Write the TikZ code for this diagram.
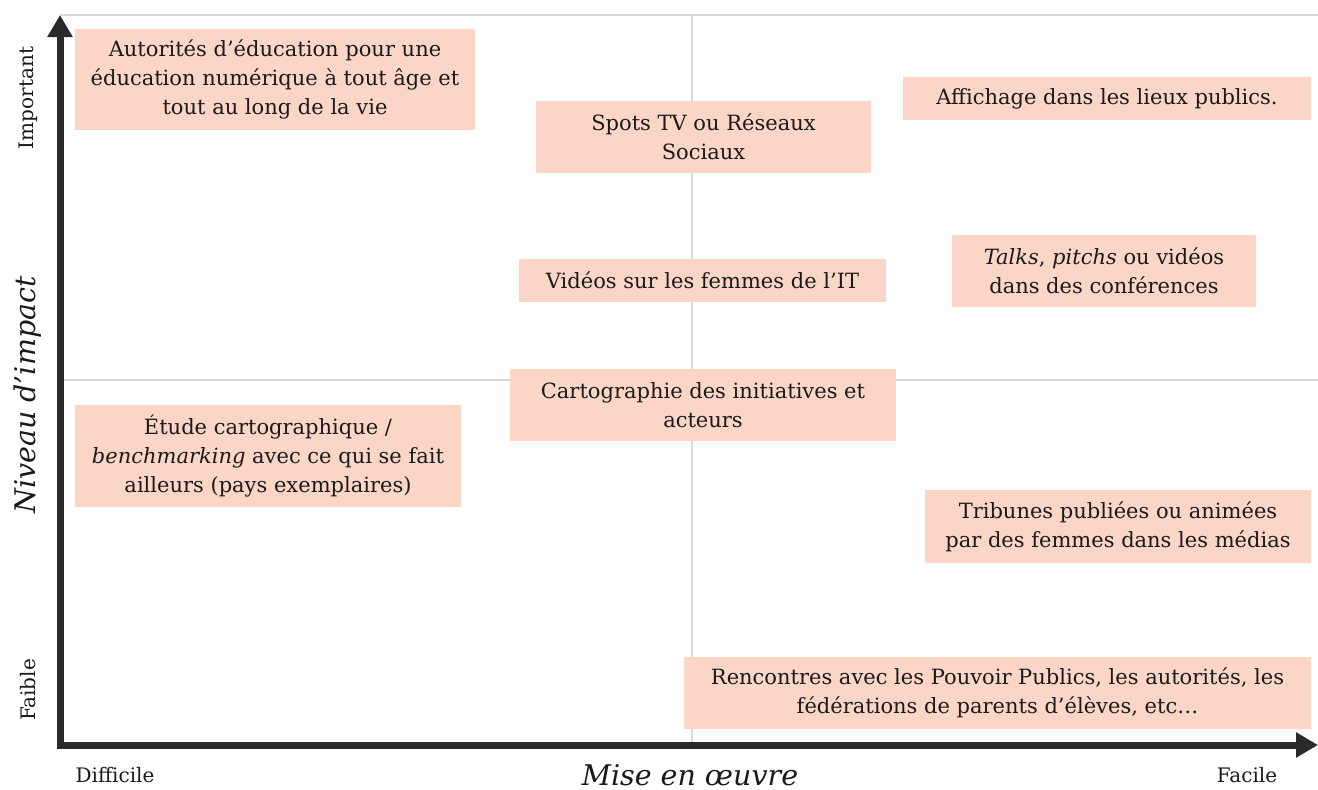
\documentclass[tikz,border=0pt]{standalone}
\usepackage{fontspec}
\setmainfont{DejaVu Serif}
\usetikzlibrary{arrows.meta}

\definecolor{peach}{RGB}{251,214,198}
\definecolor{axisgray}{RGB}{42,42,42}
\definecolor{gridgray}{RGB}{217,217,217}
\definecolor{ink}{RGB}{26,26,26}

\begin{document}
\begin{tikzpicture}[x=1pt,y=-1pt,
                idea/.style={fill=peach,inner sep=0pt,align=center,text=ink,
                    font=\fontsize{21}{29}\selectfont},
                tick label/.style={font=\fontsize{20}{24}\selectfont,text=ink},
                axis label/.style={font=\fontsize{28.5}{32}\selectfont\itshape,text=ink},
                grid line/.style={draw=gridgray,line width=1.5pt},
                axis/.style={draw=axisgray,line width=7pt,
                    -{Triangle[length=22pt,width=24pt]}},
                ]
                \useasboundingbox (0,0) rectangle (1318,790);
                \def\midx{692}
                \def\midy{380}

                % grid
                \coordinate (tl) at (60,15);
                \coordinate (tr) at (1318,15);
                \coordinate (ml) at (60,\midy);
                \coordinate (mr) at (1318,\midy);
                \coordinate (vt) at (\midx,15);
                \coordinate (vb) at (\midx,745);
                \draw[grid line] (tl) -- (tr);
                \draw[grid line] (ml) -- (mr);
                \draw[grid line] (vt) -- (vb);

                % axes
                \coordinate (o) at (60,745);
                \coordinate (ytop) at (60,15);
                \coordinate (xend) at (1318,745);
                \draw[axis] ([yshift=-3.5]o) -- (ytop);
                \draw[axis] ([xshift=-3.5]o) -- (xend);

                % ideas
                \node[idea,minimum width=400,minimum height=101] (autorites) at (275,79.5)
                    {Autorités d’éducation pour une\\éducation numérique à tout âge et\\tout au long de la vie};
                \node[idea,minimum width=335,minimum height=72] (spots) at (703.5,137)
                    {Spots TV ou Réseaux\\Sociaux};
                \node[idea,minimum width=408,minimum height=43] (affichage) at (1107,98.5)
                    {Affichage dans les lieux publics.};
                \node[idea,minimum width=367,minimum height=43] (videos) at (702.5,280.5)
                    {Vidéos sur les femmes de l’IT};
                \node[idea,minimum width=304,minimum height=72] (talks) at (1104,271)
                    {\textit{Talks}, \textit{pitchs} ou vidéos\\dans des conférences};
                \node[idea,minimum width=386,minimum height=72] (carto) at (703,405)
                    {Cartographie des initiatives et\\acteurs};
                \node[idea,minimum width=386,minimum height=102] (etude) at (268,456)
                    {Étude cartographique /\\\textit{benchmarking} avec ce qui se fait\\ailleurs (pays exemplaires)};
                \node[idea,minimum width=386,minimum height=73] (tribunes) at (1118,526.5)
                    {Tribunes publiées ou animées\\par des femmes dans les médias};
                \node[idea,minimum width=627,minimum height=72] (rencontres) at (997.5,693)
                    {Rencontres avec les Pouvoir Publics, les autorités, les\\fédérations de parents d’élèves, etc…};

                % labels
                \node[tick label,rotate=90] (important) at (28,98) {Important};
                \node[tick label,rotate=90] (faible) at (28,690) {Faible};
                \node[axis label,rotate=90] (niveau) at (28,395) {Niveau d’impact};
                \node[tick label] (difficile) at (115,775) {Difficile};
                \node[tick label] (facile) at (1247,775) {Facile};
                \node[axis label] (mise) at (690,775) {Mise en œuvre};
            \end{tikzpicture}
\end{document}
